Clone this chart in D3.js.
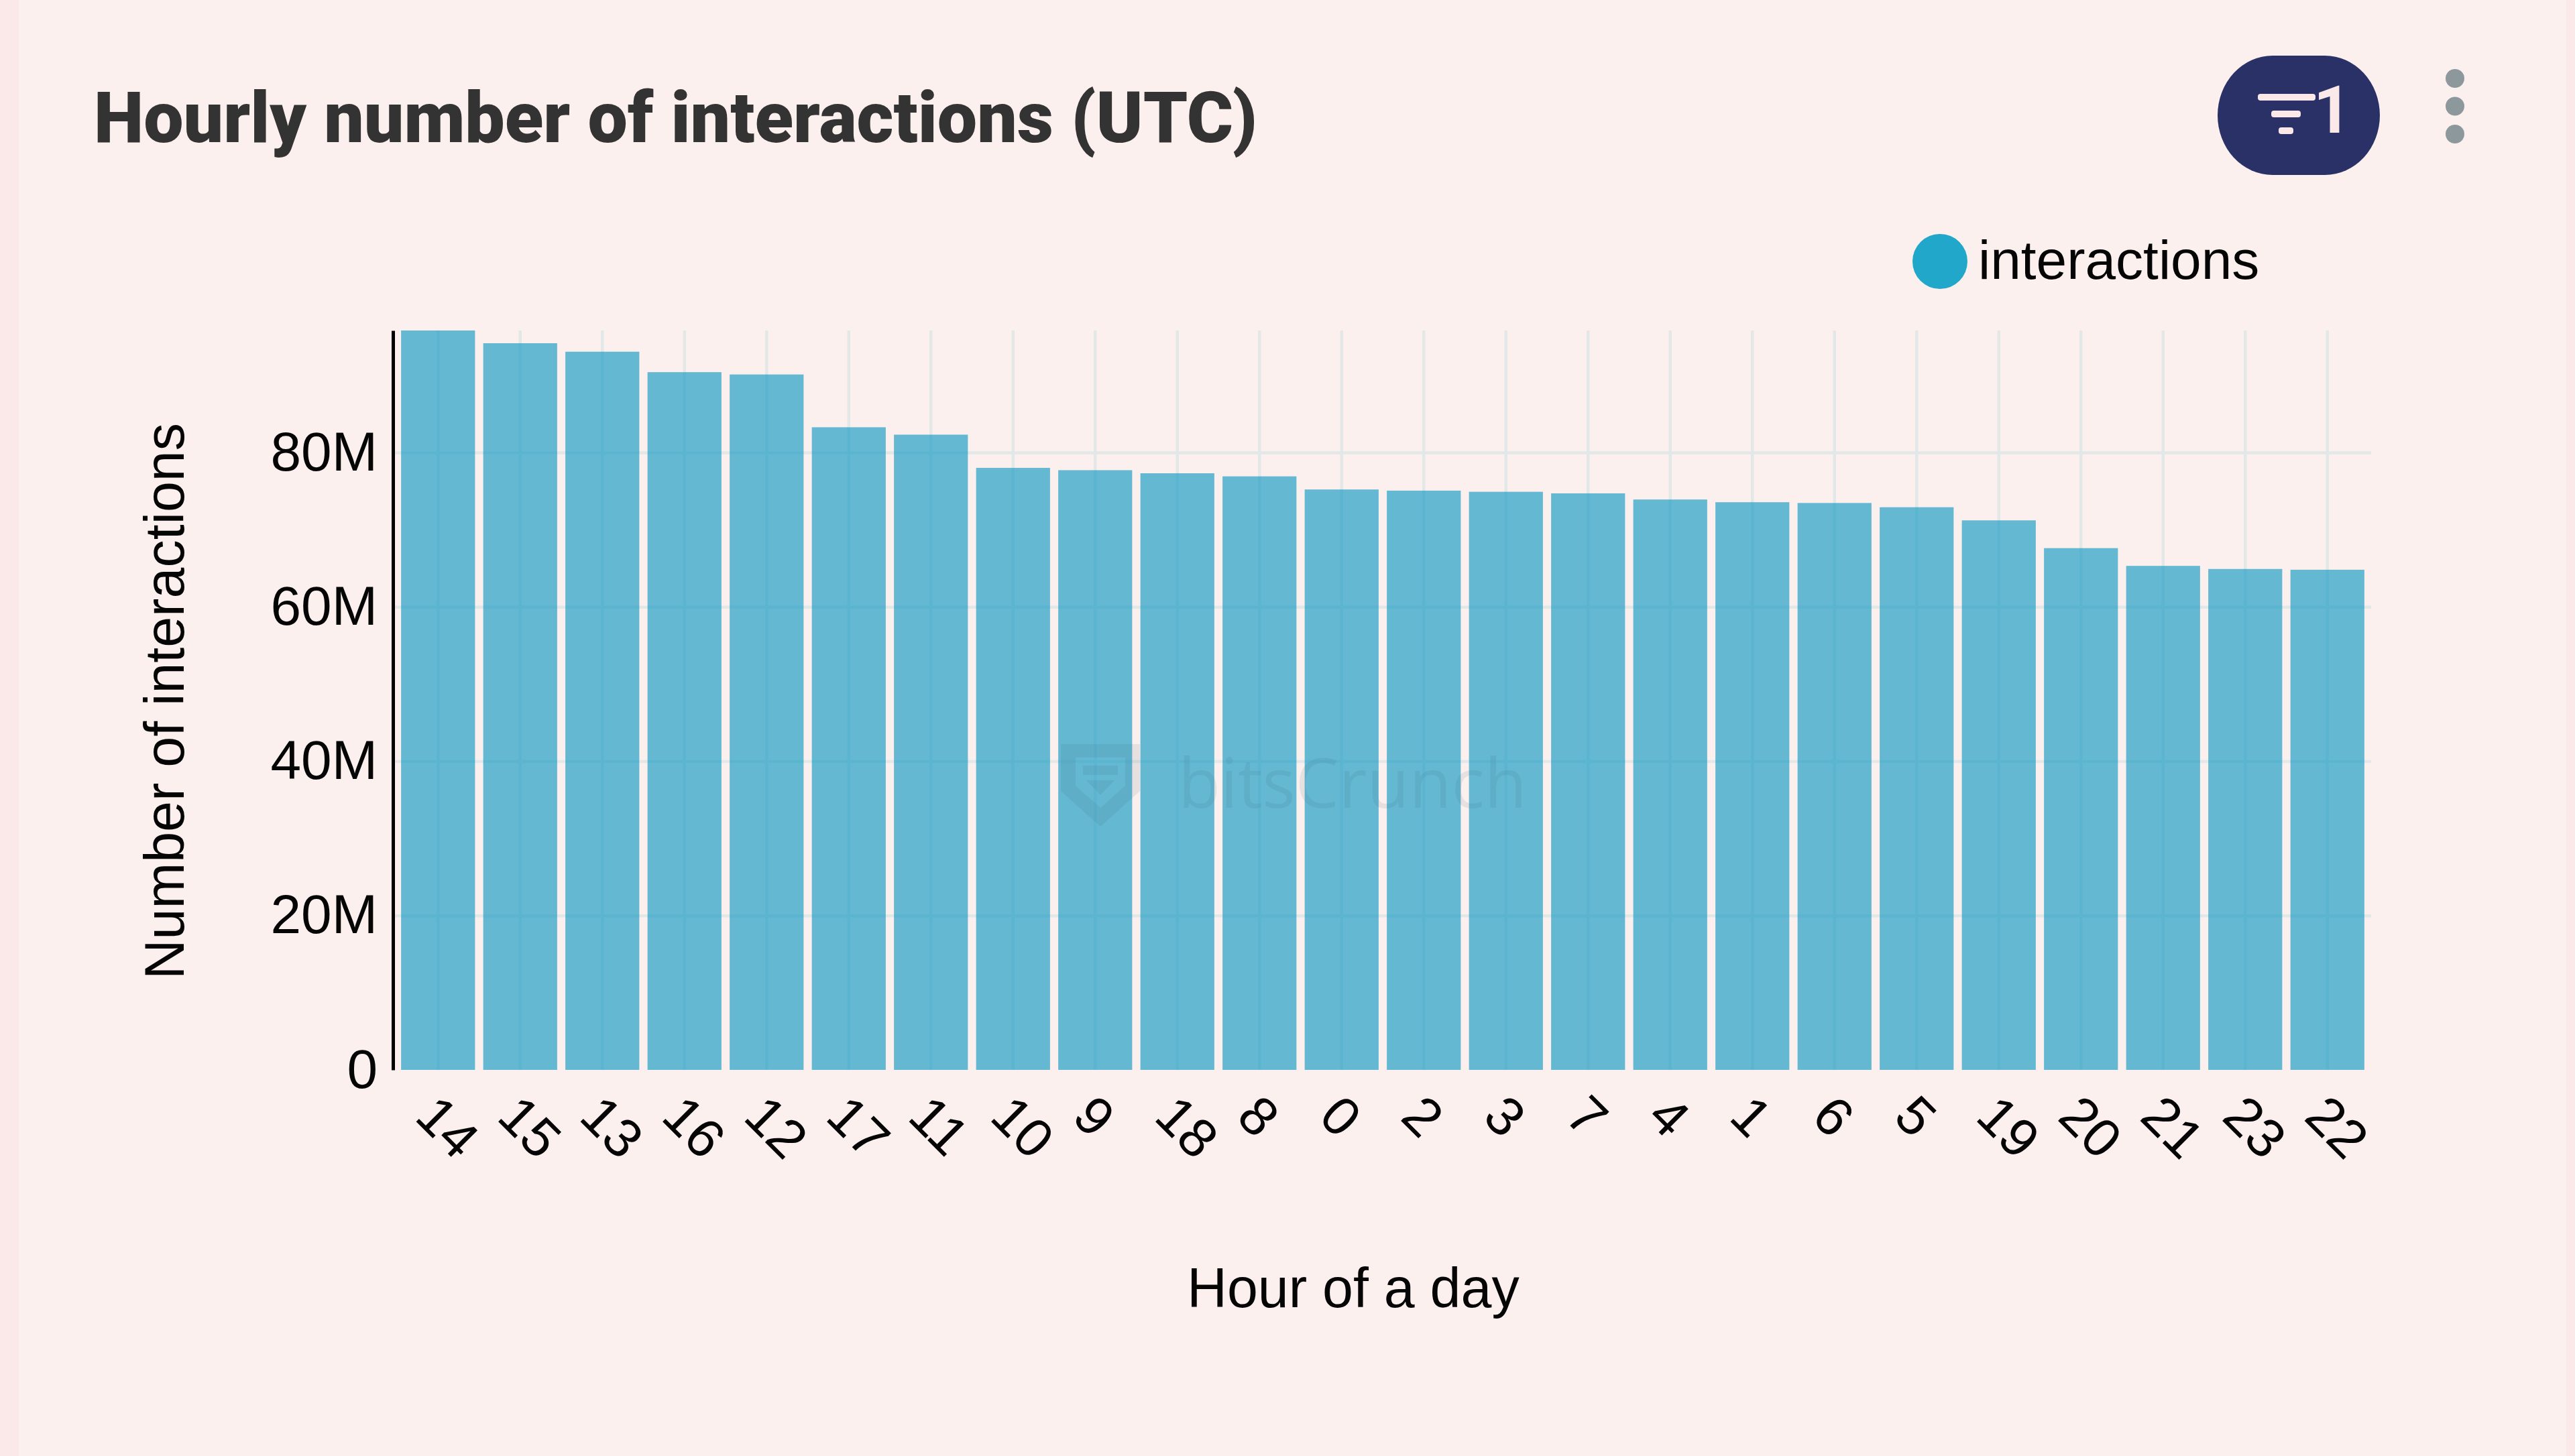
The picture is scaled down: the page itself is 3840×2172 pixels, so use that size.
<!DOCTYPE html>
<html>
<head>
<meta charset="utf-8">
<script src="https://cdn.jsdelivr.net/npm/d3@7"></script>
<style>
  html, body { margin: 0; padding: 0; background: #fcf0ee; overflow: hidden; }
  text { font-family: "Liberation Sans", Arial, sans-serif; fill: #050505; }
</style>
</head>
<body>
<div id="chart"></div>
<script>
/////////////////////////Data////////////////////////////
let hours = ["14","15","13","16","12","17","11","10","9","18","8","0","2","3","7","4","1","6","5","19","20","21","23","22"];
let interactions = [95.8e6,94.15e6,93.05e6,90.4e6,90.1e6,83.26e6,82.3e6,78.0e6,77.7e6,77.3e6,76.9e6,75.2e6,75.05e6,74.9e6,74.7e6,73.9e6,73.55e6,73.45e6,72.9e6,71.2e6,67.6e6,65.3e6,64.9e6,64.8e6];
let yTicks = [0, 20e6, 40e6, 60e6, 80e6];
let yTickLabels = ["0", "20M", "40M", "60M", "80M"];

/////////////////////////Set Up Chart////////////////////////////
let svgWidth = 3840;
let svgHeight = 2172;

// Plot area in page pixels
let plot = { left: 592, right: 3532, top: 493, bottom: 1596, axisX: 586, gridRight: 3536 };

let svg = d3.select("#chart")
  .append("svg")
  .attr("width", svgWidth)
  .attr("height", svgHeight)
  .style("display", "block");

// Card background and the pinker page strips either side of it
svg.append("rect").attr("width", svgWidth).attr("height", svgHeight).attr("fill", "#fbe8e8");
svg.append("rect").attr("x", 28).attr("width", 3799).attr("height", svgHeight).attr("fill", "#fcf0ee");

let xScale = d3.scaleBand()
  .domain(hours)
  .range([plot.left, plot.right])
  .paddingInner(0.1)
  .paddingOuter(0.05);

let yScale = d3.scaleLinear()
  .domain([0, 95.8e6])
  .range([plot.bottom, plot.top]);

/////////////////////////Grid////////////////////////////
let xGrid = svg.append("g")
  .attr("transform", `translate(0, ${plot.bottom})`)
  .call(d3.axisBottom(xScale).tickSize(-(plot.bottom - plot.top)).tickFormat(""));
xGrid.select(".domain").remove();
xGrid.selectAll("line").attr("stroke", "#e2e7e7").attr("stroke-width", 4.5);

let yGrid = svg.append("g")
  .attr("transform", `translate(${plot.axisX}, 0)`)
  .call(d3.axisLeft(yScale).tickValues(yTicks.slice(1)).tickSize(-(plot.gridRight - plot.axisX)).tickFormat(""));
yGrid.select(".domain").remove();
yGrid.selectAll("line").attr("stroke", "#e2e7e7").attr("stroke-width", 4.5);

/////////////////////////Bars////////////////////////////
svg.append("g")
  .selectAll("rect")
  .data(hours)
  .enter()
  .append("rect")
  .attr("x", d => xScale(d))
  .attr("width", xScale.bandwidth())
  .attr("y", (d, i) => yScale(interactions[i]))
  .attr("height", (d, i) => plot.bottom - yScale(interactions[i]))
  .attr("fill", "#23a0c6")
  .attr("opacity", 0.7);

/////////////////////////Axes////////////////////////////
let yAxis = svg.append("g")
  .attr("transform", `translate(${plot.axisX}, 0)`)
  .call(d3.axisLeft(yScale)
    .tickValues(yTicks)
    .tickSize(0)
    .tickPadding(23)
    .tickFormat((d, i) => yTickLabels[i]));
yAxis.select(".domain").attr("stroke", "#000").attr("stroke-width", 5);
yAxis.selectAll("text")
  .attr("font-size", 82)
  .attr("font-family", "Liberation Sans")
  .attr("fill", "#050505")
  .attr("dy", "0.32em");

let xAxis = svg.append("g")
  .attr("transform", `translate(0, ${plot.bottom})`)
  .call(d3.axisBottom(xScale).tickSize(0).tickFormat(d => d));
xAxis.select(".domain").remove();
xAxis.selectAll("text")
  .attr("font-size", 81)
  .attr("font-family", "Liberation Sans")
  .attr("fill", "#050505")
  .attr("text-anchor", "start")
  .attr("dy", "0.35em")
  .attr("y", 0)
  .attr("transform", "translate(-17, 53) rotate(45)");

// Axis titles
svg.append("text")
  .attr("transform", "translate(274, 1046) rotate(-90)")
  .attr("text-anchor", "middle")
  .attr("font-size", 82.5)
  .text("Number of interactions");

svg.append("text")
  .attr("x", 2018)
  .attr("y", 1950)
  .attr("text-anchor", "middle")
  .attr("font-size", 82.5)
  .text("Hour of a day");

/////////////////////////Watermark////////////////////////////
let mark = svg.append("g").attr("opacity", 0.11);
mark.append("path")
  .attr("d", "M1582 1110H1700V1180L1641 1233L1582 1180Z M1604 1130V1172L1641 1205L1678 1172V1130Z M1615 1142H1667V1156H1615Z M1620 1164H1662L1641 1186Z")
  .attr("fill", "#3f6478")
  .attr("fill-rule", "evenodd");
mark.append("text")
  .attr("x", 1757)
  .attr("y", 1205)
  .attr("font-size", 103)
  .attr("textLength", 520)
  .style("font-family", "'Open Sans'")
  .style("font-weight", 400)
  .style("fill", "#3f6478")
  .text("bitsCrunch");

/////////////////////////Header////////////////////////////
svg.append("text")
  .attr("x", 140)
  .attr("y", 212)
  .attr("textLength", 1735)
  .attr("lengthAdjust", "spacingAndGlyphs")
  .attr("font-size", 105)
  .style("font-family", "Roboto")
  .style("font-weight", 900)
  .style("fill", "#333")
  .text("Hourly number of interactions (UTC)");

// Legend
svg.append("circle")
  .attr("cx", 2893)
  .attr("cy", 390)
  .attr("r", 41)
  .attr("fill", "#20a7c9");
svg.append("text")
  .attr("x", 2950)
  .attr("y", 416)
  .attr("font-size", 82)
  .text("interactions");

// Filter button
svg.append("rect")
  .attr("x", 3307)
  .attr("y", 83)
  .attr("width", 242)
  .attr("height", 178)
  .attr("rx", 82)
  .attr("ry", 89)
  .attr("fill", "#2a3166");
[[3367, 86, 145], [3387, 44, 170], [3398, 22, 195]].forEach(r => {
  svg.append("rect")
    .attr("x", r[0])
    .attr("y", r[2] - 5)
    .attr("width", r[1])
    .attr("height", 10)
    .attr("rx", 4)
    .attr("fill", "#fbe9e9");
});
svg.append("text")
  .attr("x", 3450)
  .attr("y", 198)
  .attr("font-size", 98)
  .style("font-family", "Roboto")
  .style("font-weight", 700)
  .style("fill", "#fbe9e9")
  .text("1");

// Menu dots
[117, 158.5, 200].forEach(cy => {
  svg.append("ellipse")
    .attr("cx", 3661)
    .attr("cy", cy)
    .attr("rx", 14)
    .attr("ry", 14)
    .attr("fill", "#8d989c");
});
</script>
</body>
</html>
